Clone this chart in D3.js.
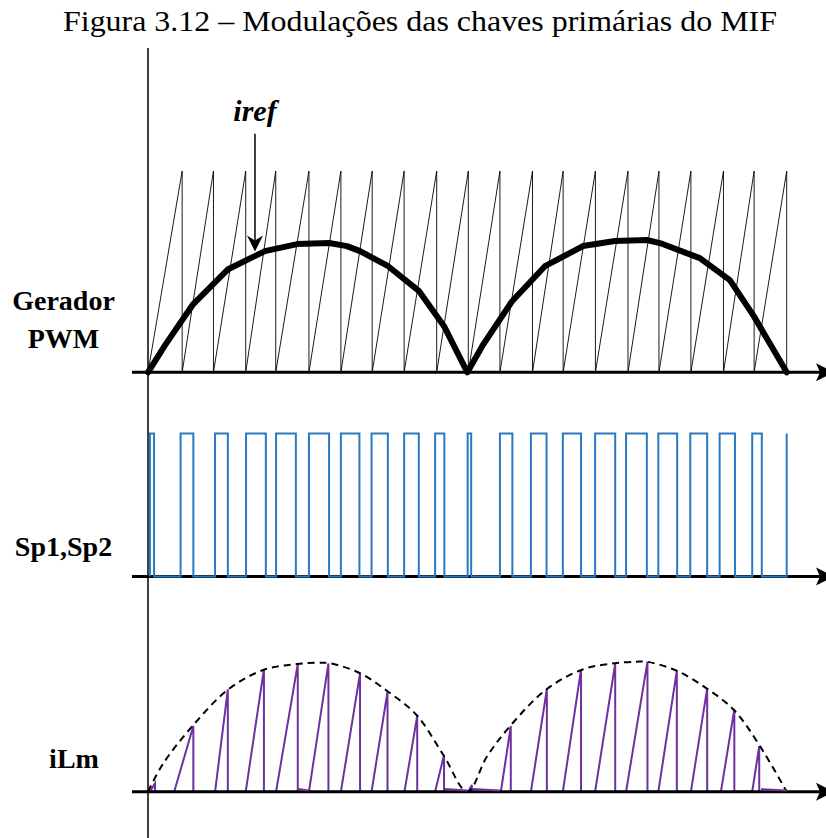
<!DOCTYPE html>
<html lang="pt">
<head>
<meta charset="UTF-8">
<title>Figura 3.12</title>
<script src="https://d3js.org/d3.v7.min.js"></script>
<style>
  body { margin: 0; background: #fff; }
  svg text { font-family: "Liberation Serif", "Times New Roman", serif; fill: #000; }
</style>
</head>
<body>
<div id="chart"></div>
<script>
// tempo medido em periodos da portadora (0 .. 20)
var carrierResets = [1.07, 2.05, 3.06, 4.0, 5.04, 6.04, 7.02, 8.02, 9.04, 10.03,
                     11.02, 12.04, 13.0, 14.01, 15.03, 16.0, 17.0, 18.02, 18.98, 20.0];

// referencia iref (dois semiciclos retificados)
var irefT = [0, 0.53, 1.41, 2.51, 3.66, 4.67, 5.67, 6.23, 6.64, 7.52, 8.49, 9.27, 10,
             10.5, 11.4, 12.43, 13.62, 14.62, 15.62, 16.03, 17.28, 18.22, 18.97, 20];
var irefV = [0, 0.134, 0.338, 0.512, 0.602, 0.637, 0.642, 0.627, 0.602, 0.527, 0.403, 0.229, 0,
             0.139, 0.353, 0.527, 0.627, 0.652, 0.657, 0.642, 0.567, 0.458, 0.279, 0];

// pulsos Sp1,Sp2
var pwmOn  = [0.06, 1.02, 2.1, 3.07, 4.01, 5.04, 6.04, 7.0, 8.02, 8.99, 10.01,
              11.02, 11.99, 12.99, 14.0, 14.97, 15.98, 16.98, 17.9, 18.92, 20.0];
var pwmOff = [0.19, 1.42, 2.5, 3.69, 4.63, 5.67, 6.62, 7.51, 8.48, 9.28, 10.12,
              11.41, 12.48, 13.56, 14.63, 15.62, 16.57, 17.51, 18.38, 19.22];

// envoltoria tracejada de iLm
var envT = [0, 0.48, 1.42, 2.52, 3.61, 4.65, 5.28, 5.7, 6.64, 7.52, 8.41, 9.25, 10,
            10.61, 11.34, 12.48, 13.63, 14.62, 15.3, 15.61, 16.55, 17.49, 18.35, 19.16, 20];
var envV = [0, 0.218, 0.513, 0.788, 0.936, 0.982, 0.992, 0.988, 0.911, 0.769, 0.59, 0.282, 0,
            0.269, 0.505, 0.788, 0.942, 0.988, 1.0, 1.0, 0.931, 0.795, 0.628, 0.352, 0];

// dentes da corrente iLm
var toothStart = [0.06, 0.82, 2.1, 3.06, 4.01, 5.04, 6.04, 7.0, 8.03, 8.99,
                  10.03, 11.05, 11.99, 12.99, 14.0, 14.97, 15.98, 17.0, 17.94, 18.92];
var toothPeakT = [0.22, 1.42, 2.5, 3.63, 4.69, 5.65, 6.64, 7.5, 8.43, 9.27,
                  10.14, 11.36, 12.49, 13.56, 14.63, 15.64, 16.56, 17.51, 18.36, 19.14];
var toothPeakV = [0.064, 0.505, 0.788, 0.942, 0.982, 0.987, 0.91, 0.769, 0.582, 0.282,
                  0.052, 0.505, 0.788, 0.942, 0.987, 1.0, 0.932, 0.795, 0.633, 0.351];
var flatStart = [4.69, 9.27, 10.14, 19.2];
var flatEnd   = [5.04, 10.0, 11.02, 20.0];

var labels = ["Gerador", "PWM", "Sp1,Sp2", "iLm"];

const width = 826, height = 838;

const svg = d3.select("#chart").append("svg")
    .attr("width", width)
    .attr("height", height);

const x = d3.scaleLinear().domain([0, 20]).range([148, 786.7]);
const yTop = d3.scaleLinear().domain([0, 1]).range([372.3, 171]);
const yPwm = d3.scaleLinear().domain([0, 1]).range([576.5, 433.5]);
const yIlm = d3.scaleLinear().domain([0, 1]).range([791.7, 661.7]);

// titulo
svg.append("text")
    .attr("x", 63).attr("y", 31)
    .attr("textLength", 714)
    .attr("lengthAdjust", "spacingAndGlyphs")
    .style("font-size", "30px")
    .text("Figura 3.12 \u2013 Modula\u00e7\u00f5es das chaves prim\u00e1rias do MIF");

// ---- painel 1: portadora dente de serra + iref
var carrierPts = [[0, 0]];
carrierResets.forEach(r => { carrierPts.push([r, 1]); carrierPts.push([r, 0]); });

svg.append("path")
    .attr("d", d3.line().x(d => x(d[0])).y(d => yTop(d[1]))(carrierPts))
    .attr("fill", "none")
    .attr("stroke", "#000")
    .attr("stroke-width", 0.9);

svg.append("path")
    .attr("d", d3.line().x((d, i) => x(d)).y((d, i) => yTop(irefV[i]))(irefT))
    .attr("fill", "none")
    .attr("stroke", "#000")
    .attr("stroke-width", 6)
    .attr("stroke-linejoin", "round")
    .attr("stroke-linecap", "round");

// ---- painel 2: pulsos
var pwmPts = [];
pwmOn.forEach((on, i) => {
    pwmPts.push([on, 0], [on, 1]);
    if (i < pwmOff.length) pwmPts.push([pwmOff[i], 1], [pwmOff[i], 0]);
});

// ---- painel 3: iLm
var ilmPts = [[0, 0]];
toothStart.forEach((s, i) => {
    ilmPts.push([s, 0], [toothPeakT[i], toothPeakV[i]], [toothPeakT[i], 0]);
});
ilmPts.push([20, 0]);

svg.append("path")
    .attr("d", d3.line().x(d => x(d[0])).y(d => yIlm(d[1]))(ilmPts))
    .attr("fill", "none")
    .attr("stroke", "#7030a0")
    .attr("stroke-width", 2);

svg.append("path")
    .attr("d", d3.line().curve(d3.curveCatmullRom).x(d => x(d)).y((d, i) => yIlm(envV[i]))(envT))
    .attr("fill", "none")
    .attr("stroke", "#000")
    .attr("stroke-width", 2)
    .attr("stroke-dasharray", "7,5");

// ---- eixos
const axisStart = 132;
[yTop(0), yPwm(0), yIlm(0)].forEach(yy => {
    svg.append("line")
        .attr("x1", axisStart).attr("x2", 822)
        .attr("y1", yy).attr("y2", yy)
        .attr("stroke", "#000").attr("stroke-width", 3);
    svg.append("path")
        .attr("d", `M${816},${yy - 9} L${834},${yy} L${816},${yy + 9} L${820},${yy} Z`)
        .attr("fill", "#000");
});

svg.append("line")
    .attr("x1", x(0)).attr("x2", x(0))
    .attr("y1", 48).attr("y2", height)
    .attr("stroke", "#000").attr("stroke-width", 1.5);

// pulsos por cima do eixo
svg.append("path")
    .attr("d", d3.line().x(d => x(d[0])).y(d => yPwm(d[1]))(pwmPts))
    .attr("fill", "none")
    .attr("stroke", "#2a78c2")
    .attr("stroke-width", 2);

// trechos planos visiveis de iLm
flatStart.forEach((s, i) => {
    svg.append("line")
        .attr("x1", x(s)).attr("x2", x(flatEnd[i]))
        .attr("y1", yIlm(0.02)).attr("y2", yIlm(0.01))
        .attr("stroke", "#7030a0").attr("stroke-width", 2);
});

// seta iref
const arrowT = 3.35;
const ax = x(arrowT), tipY = yTop(0.6);
svg.append("line")
    .attr("x1", ax).attr("x2", ax)
    .attr("y1", yTop(1.185)).attr("y2", tipY - 8)
    .attr("stroke", "#000").attr("stroke-width", 1.5);
svg.append("path")
    .attr("d", `M${ax},${tipY} L${ax - 8},${tipY - 16} L${ax},${tipY - 11} L${ax + 8},${tipY - 16} Z`)
    .attr("fill", "#000");

svg.append("text")
    .attr("x", ax).attr("y", 121)
    .attr("text-anchor", "middle")
    .style("font-size", "30px")
    .style("font-weight", "bold")
    .style("font-style", "italic")
    .text("iref");

// rotulos
const labelPos = [[63.5, 310], [63.5, 348], [63.5, 556], [74, 768]];
labels.forEach((t, i) => {
    svg.append("text")
        .attr("x", labelPos[i][0]).attr("y", labelPos[i][1])
        .attr("text-anchor", "middle")
        .style("font-size", "28px")
        .style("font-weight", "bold")
        .text(t);
});
</script>
</body>
</html>
